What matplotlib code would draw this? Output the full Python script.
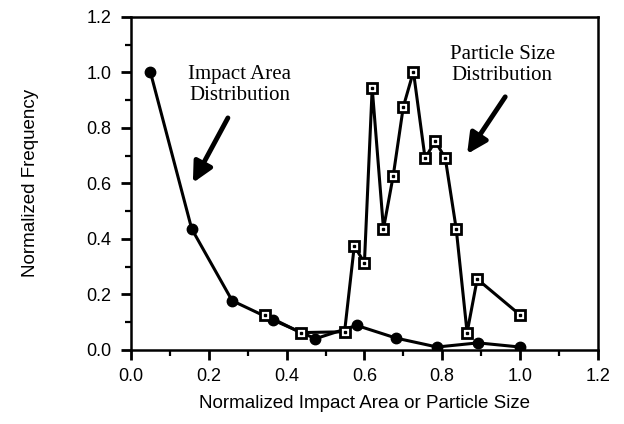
import numpy as np
import matplotlib
matplotlib.use("Agg")
import matplotlib.pyplot as plt
from matplotlib.ticker import MultipleLocator

# impact area distribution (filled circles)
impact_x = [0.05, 0.156, 0.26, 0.364, 0.474, 0.58, 0.682, 0.787, 0.892, 1.0]
impact_y = [1.0, 0.436, 0.177, 0.108, 0.04, 0.088, 0.042, 0.01, 0.025, 0.01]

# particle size distribution (open squares)
particle_x = [0.344, 0.436, 0.549, 0.574, 0.600, 0.620, 0.649, 0.674, 0.700,
              0.726, 0.756, 0.782, 0.808, 0.836, 0.864, 0.890, 1.0]
particle_y = [0.126, 0.062, 0.065, 0.375, 0.313, 0.944, 0.436, 0.627, 0.876,
              1.003, 0.690, 0.753, 0.690, 0.436, 0.062, 0.255, 0.126]

x_ticks = [0.0, 0.2, 0.4, 0.6, 0.8, 1.0, 1.2]
y_ticks = [0.0, 0.2, 0.4, 0.6, 0.8, 1.0, 1.2]

sans = ['Liberation Sans', 'DejaVu Sans']
serif = ['Liberation Serif', 'DejaVu Serif']

fig = plt.figure(figsize=(6.24, 4.24), dpi=100)
ax = fig.add_axes([0.21, 0.175, 0.748, 0.785])

ax.plot(impact_x, impact_y, color='black', lw=2.2, marker='o', ms=7.5,
        mfc='black', mec='black', zorder=3)
ax.plot(particle_x, particle_y, color='black', lw=2.2, marker='s', ms=7.5,
        mfc='white', mec='black', mew=2, zorder=4)
ax.plot(particle_x, particle_y, ls='none', marker='s', ms=2,
        mfc='black', mec='black', zorder=5)

ax.set_xlim(0, 1.2)
ax.set_ylim(0, 1.2)
ax.set_xticks(x_ticks)
ax.set_yticks(y_ticks)
ax.set_xticklabels([f"{v:.1f}" for v in x_ticks], family=sans, fontsize=13)
ax.set_yticklabels([f"{v:.1f}" for v in y_ticks], family=sans, fontsize=13)
ax.xaxis.set_minor_locator(MultipleLocator(0.1))
ax.yaxis.set_minor_locator(MultipleLocator(0.1))
ax.tick_params(which='major', direction='out', length=7, width=2)
ax.tick_params(which='minor', direction='out', length=4, width=1.6)
ax.tick_params(axis='x', pad=6)
ax.tick_params(axis='y', pad=7)
for s in ax.spines.values():
    s.set_linewidth(1.8)

ax.set_xlabel('Normalized Impact Area or Particle Size', family=sans,
              fontsize=13.5, labelpad=7)
ax.set_ylabel('Normalized Frequency', family=sans, fontsize=13.5, labelpad=34)

arrow_style = dict(arrowstyle='-|>,head_length=1.2,head_width=0.6',
                   color='black', lw=3.5, shrinkA=0, shrinkB=0)

ax.text(0.279, 0.955, 'Impact Area\nDistribution', family=serif, fontsize=15,
        ha='center', va='center', linespacing=1.1)
ax.annotate('', xy=(0.159, 0.602), xytext=(0.249, 0.836),
            arrowprops=arrow_style)

ax.text(0.954, 1.027, 'Particle Size\nDistribution', family=serif, fontsize=15,
        ha='center', va='center', linespacing=1.1)
ax.annotate('', xy=(0.864, 0.706), xytext=(0.962, 0.912),
            arrowprops=arrow_style)

fig.savefig('out.png', dpi=100)
